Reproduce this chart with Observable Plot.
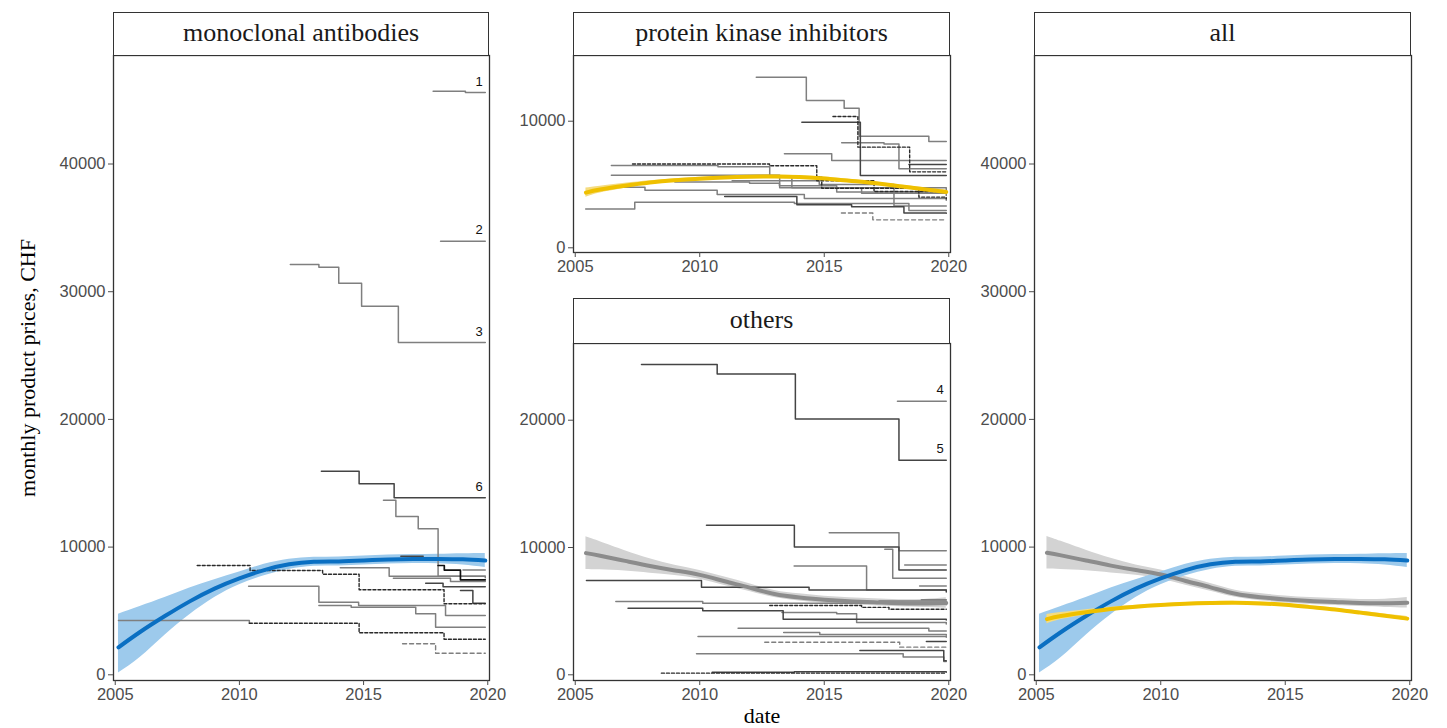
<!DOCTYPE html>
<html><head><meta charset="utf-8">
<script src="https://cdn.jsdelivr.net/npm/d3@7"></script>
<script src="https://cdn.jsdelivr.net/npm/@observablehq/plot@0.6"></script>
<style>
body{margin:0;background:#fff;}
#root{position:relative;width:1447px;height:728px;overflow:hidden;background:#fff;}
.strip{position:absolute;box-sizing:border-box;border:1.3px solid #333;background:#fff;font-family:"Liberation Serif","Times New Roman",serif;font-size:26px;color:#1a1a1a;display:flex;align-items:center;justify-content:center;padding-bottom:2px;}
.panel{position:absolute;}
.ytitle{position:absolute;font-family:"Liberation Serif","Times New Roman",serif;font-size:22px;color:#000;white-space:nowrap;transform:translate(-50%,-50%) rotate(-90deg);}
.xtitle{position:absolute;font-family:"Liberation Serif","Times New Roman",serif;font-size:22px;color:#000;white-space:nowrap;transform:translate(-50%,-50%);}
</style></head>
<body><div id="root"></div>
<script>
// ---------- data ----------
const panelTitles = ["monoclonal antibodies", "protein kinase inhibitors", "others", "all"];
const xTicks = [2005, 2010, 2015, 2020];
const tallTicks = [0, 10000, 20000, 30000, 40000];
const pkiTicks = [0, 10000];
const othersTicks = [0, 10000, 20000];
const yTitle = "monthly product prices, CHF";
const xTitle = "date";

// step series: [date, price] breakpoints (step-after), last point = end date
const monoSeries = [
  {id:"m1", kind:"gray", pts:[[2017.8,45700],[2019.1,45600],[2019.9,45600]]},
  {id:"m2", kind:"gray", pts:[[2018.1,33950],[2019.9,33950]]},
  {id:"m3", kind:"gray", pts:[[2012.05,32130],[2013.2,31920],[2014.0,30670],[2014.92,28860],[2016.4,26020],[2019.9,26020]]},
  {id:"m6", kind:"dark", pts:[[2013.3,15940],[2014.82,14960],[2016.23,13860],[2019.9,13860]]},
  {id:"m7", kind:"gray", pts:[[2015.8,13670],[2016.3,12400],[2017.2,11430],[2018.0,7720],[2019.9,7600]]},
  {id:"m8", kind:"darkdash", pts:[[2008.3,8560],[2010.43,8170],[2013.35,7880],[2014.82,6660],[2018.24,5560],[2019.9,5560]]},
  {id:"m9", kind:"gray", pts:[[2010.37,6940],[2013.2,5690],[2014.8,5430],[2018.3,4640],[2019.9,4640]]},
  {id:"m10", kind:"gray", pts:[[2013.2,5430],[2014.5,5290],[2017.1,4780],[2017.9,3730],[2019.9,3730]]},
  {id:"m11a", kind:"gray", pts:[[2005.13,4250],[2010.4,4040]]},
  {id:"m11b", kind:"darkdash", pts:[[2010.4,4040],[2014.82,3290],[2018.24,2790],[2019.9,2790]]},
  {id:"m12", kind:"lightdash", pts:[[2016.57,2430],[2017.9,1690],[2019.9,1690]]},
  {id:"m13", kind:"gray", pts:[[2014.06,8380],[2016.03,7720],[2019.9,7720]]},
  {id:"m14", kind:"dark", pts:[[2016.5,9290],[2017.4,9290]]},
  {id:"m15", kind:"gray", pts:[[2016.2,7570],[2018.5,7300],[2019.9,7300]]},
  {id:"m16", kind:"black", pts:[[2018.0,8560],[2018.25,8200],[2018.9,7440],[2019.9,7440]]},
  {id:"m17", kind:"dark", pts:[[2017.5,7160],[2018.2,6900],[2019.9,6900]]},
  {id:"m18", kind:"gray", pts:[[2019.0,8200],[2019.9,8200]]},
  {id:"m19", kind:"dark", pts:[[2018.9,6600],[2019.4,5600],[2019.9,5600]]}
];
const monoLabels = [
  {label:"1", x:2019.65, y:45600},
  {label:"2", x:2019.65, y:33950},
  {label:"3", x:2019.65, y:26020},
  {label:"6", x:2019.65, y:13860}
];

const pkiSeries = [
  {id:"p1", kind:"gray", pts:[[2012.27,13480],[2014.28,11630],[2015.8,11030],[2016.4,8820],[2019.2,8400],[2019.9,8400]]},
  {id:"p2", kind:"dark", pts:[[2014.1,9920],[2016.45,5710],[2019.9,5710]]},
  {id:"p3", kind:"darkdash", pts:[[2015.35,10370],[2016.35,7950],[2018.43,6000],[2019.9,6000]]},
  {id:"p4", kind:"gray", pts:[[2013.4,7420],[2015.3,6900],[2019.9,6900]]},
  {id:"p5", kind:"gray", pts:[[2006.45,6510],[2010.73,6400],[2012.81,5660],[2013.7,4740],[2019.9,4600]]},
  {id:"p6", kind:"darkdash", pts:[[2007.3,6620],[2012.8,6480],[2014.7,5300],[2017.0,4450],[2019.9,4450]]},
  {id:"p7", kind:"gray", pts:[[2006.45,5740],[2013.21,4740],[2016.5,4300],[2019.9,4130]]},
  {id:"p8", kind:"gray", pts:[[2006.45,4790],[2007.8,4550],[2010.7,4210],[2014.2,3900],[2019.9,3760]]},
  {id:"p9", kind:"gray", pts:[[2005.42,3070],[2007.39,3600],[2013.8,3500],[2018.4,2950],[2019.9,2950]]},
  {id:"p10", kind:"lightdash", pts:[[2015.69,2750],[2016.95,2210],[2019.9,2210]]},
  {id:"p11", kind:"dark", pts:[[2011.0,4050],[2013.9,3400],[2016.1,3250],[2018.2,2750],[2019.9,2730]]},
  {id:"p12", kind:"gray", pts:[[2009.0,5200],[2012.0,5100],[2013.2,4900],[2015.5,4400],[2019.9,4300]]},
  {id:"p13", kind:"darkdash", pts:[[2012.9,5600],[2014.9,4700],[2018.8,4000],[2019.9,3870]]},
  {id:"p14", kind:"gray", pts:[[2015.7,8300],[2017.4,8200],[2018.0,6250],[2019.9,6240]]},
  {id:"p15", kind:"gray", pts:[[2011.3,5300],[2014.8,5000],[2017.8,3300],[2019.9,3300]]},
  {id:"p16", kind:"dark", pts:[[2018.4,6580],[2019.9,6580]]}
];

const othersSeries = [
  {id:"o5", kind:"dark", pts:[[2007.66,24370],[2010.7,23630],[2013.84,20100],[2018.0,16860],[2019.9,16860]]},
  {id:"o4", kind:"gray", pts:[[2017.94,21490],[2019.9,21490]]},
  {id:"oa", kind:"dark", pts:[[2010.27,11740],[2013.8,10040],[2018.0,8240],[2019.9,8240]]},
  {id:"ob", kind:"gray", pts:[[2015.2,11160],[2018.0,9750],[2019.9,9750]]},
  {id:"oc", kind:"gray", pts:[[2017.43,9860],[2017.75,7580],[2019.9,7580]]},
  {id:"od", kind:"gray", pts:[[2013.79,8550],[2016.7,6670],[2019.9,6670]]},
  {id:"oe", kind:"gray", pts:[[2018.23,8630],[2019.9,8630]]},
  {id:"of", kind:"gray", pts:[[2018.83,6980],[2019.9,6980]]},
  {id:"og", kind:"dark", pts:[[2005.45,7400],[2010.07,6880],[2014.39,6670],[2019.9,6500]]},
  {id:"oh", kind:"gray", pts:[[2006.63,5750],[2010.12,5620],[2019.9,5500]]},
  {id:"oi", kind:"darkdash", pts:[[2012.81,5440],[2016.5,5300],[2017.6,5150],[2019.9,5150]]},
  {id:"oj", kind:"dark", pts:[[2007.12,5230],[2010.12,5040],[2013.35,4370],[2019.9,4300]]},
  {id:"ok", kind:"gray", pts:[[2013.3,4900],[2015.5,4800],[2016.3,4100],[2019.9,4000]]},
  {id:"ol", kind:"gray", pts:[[2011.54,3660],[2019.2,3450],[2019.9,3450]]},
  {id:"om", kind:"gray", pts:[[2013.37,3320],[2014.82,3160],[2019.9,3100]]},
  {id:"on", kind:"gray", pts:[[2009.93,3010],[2019.9,2950]]},
  {id:"oo", kind:"lightdash", pts:[[2012.61,2560],[2018.03,2170],[2019.9,2170]]},
  {id:"op", kind:"dark", pts:[[2019.1,2610],[2019.9,2610]]},
  {id:"oq", kind:"dark", pts:[[2016.43,1910],[2019.8,1100],[2019.9,1100]]},
  {id:"or", kind:"gray", pts:[[2009.87,1650],[2018.17,1390],[2019.8,1040],[2019.9,1040]]},
  {id:"os", kind:"darkdash", pts:[[2008.46,130],[2019.9,130]]},
  {id:"ot", kind:"dark", pts:[[2010.5,200],[2013.8,230],[2019.9,200]]},
  {id:"ou", kind:"gray", pts:[[2018.9,5900],[2019.9,5900]]},
  {id:"ov", kind:"gray", pts:[[2017.2,5800],[2019.9,5600]]}
];
const othersLabels = [
  {label:"4", x:2019.65, y:21490},
  {label:"5", x:2019.65, y:16860}
];

// smoothed trends: [date, fit, lower, upper]
const monoSmooth = [[2005.13,2150,150,4750],[2006,3350,1350,5350],[2007,4600,3100,6050],[2008,5750,4700,6800],[2009,6750,6050,7450],[2010,7550,7050,8050],[2011,8200,7750,8650],[2012,8650,8250,9050],[2013,8850,8500,9200],[2014,8880,8530,9230],[2015,8950,8600,9300],[2016,9030,8680,9380],[2017,9070,8720,9420],[2018,9070,8700,9440],[2019,9040,8600,9480],[2019.9,8950,8400,9500]];
const pkiSmooth = [[2005.43,4360,4000,4720],[2006,4600,4330,4870],[2007,4900,4710,5090],[2008,5150,5010,5290],[2009,5330,5210,5450],[2010,5460,5350,5570],[2011,5560,5450,5670],[2012,5620,5510,5730],[2013,5640,5530,5750],[2014,5590,5480,5700],[2015,5480,5370,5590],[2016,5300,5190,5410],[2017,5110,5000,5220],[2018,4870,4750,4990],[2019,4620,4480,4760],[2019.9,4400,4230,4570]];
const othersSmooth = [[2005.43,9560,8280,10840],[2006,9350,8250,10450],[2007,8950,8150,9750],[2008,8550,7980,9120],[2009,8200,7800,8600],[2010,7850,7500,8200],[2011,7350,7020,7680],[2012,6850,6550,7150],[2013,6350,6070,6630],[2014,6080,5800,6360],[2015,5900,5630,6170],[2016,5780,5510,6050],[2017,5700,5430,5970],[2018,5620,5340,5900],[2019,5600,5280,5920],[2019.9,5640,5230,6050]];

// ---------- drawing ----------
const root = document.getElementById("root");
const ML = 70, MR = 6, MT = 2, MB = 34;
const xDomain = [2004.93, 2020.07];
const lineKinds = {
  gray: {stroke:"#7f7f7f", strokeWidth:1.5},
  dark: {stroke:"#444", strokeWidth:1.5},
  black: {stroke:"#111", strokeWidth:1.7},
  darkdash: {stroke:"#2a2a2a", strokeWidth:1.4, strokeDasharray:"3,2"},
  lightdash: {stroke:"#7f7f7f", strokeWidth:1.4, strokeDasharray:"4,3"}
};
const trendStyle = {
  blue: {line:"#0a6fc2", band:"#9dcaec"},
  yellow: {line:"#efc000", band:"#f5dc80"},
  gray: {line:"#8c8c8c", band:"#d3d3d3"}
};

function rowsOf(series) {
  const rows = [];
  for (const s of series) for (const p of s.pts) rows.push({id:s.id, kind:s.kind, x:p[0], y:p[1]});
  return rows;
}
function smoothRows(arr) { return arr.map(d => ({x:d[0], fit:d[1], lo:d[2], hi:d[3]})); }

function bandMark(arr, col) {
  return Plot.areaY(smoothRows(arr), {x:"x", y1:"lo", y2:"hi", fill:trendStyle[col].band, curve:"natural"});
}
function trendLine(arr, col) {
  return Plot.line(smoothRows(arr), {x:"x", y:"fit", stroke:trendStyle[col].line, strokeWidth:4, curve:"natural"});
}
function stepMarks(series) {
  const rows = rowsOf(series);
  return Object.keys(lineKinds).map(k =>
    Plot.line(rows.filter(r => r.kind === k), {x:"x", y:"y", z:"id", curve:"step-after", ...lineKinds[k]}));
}
function labelMark(labels) {
  return Plot.text(labels, {x:"x", y:"y", text:"label", dy:-11, fill:"#111", fontSize:13, fontFamily:"Liberation Sans, Arial, sans-serif"});
}

function panel({x0, y0, x1, y1, yDomain, yTicks, marks}) {
  const chart = Plot.plot({
    width: (x1 - x0) + ML + MR,
    height: (y1 - y0) + MT + MB,
    marginLeft: ML, marginRight: MR, marginTop: MT, marginBottom: MB,
    x: {domain: xDomain},
    y: {domain: yDomain},
    style: {fontFamily:"Liberation Sans, Arial, sans-serif", fontSize:"16.5px", color:"#4d4d4d", background:"transparent", overflow:"visible"},
    marks: [
      ...marks,
      Plot.frame({stroke:"#333", strokeWidth:1.3}),
      Plot.axisX({ticks:xTicks, tickFormat:"d", tickSize:5, tickPadding:3, label:null, fontSize:16.5}),
      Plot.axisY({ticks:yTicks, tickFormat:"d", tickSize:5, tickPadding:3, label:null, fontSize:16.5})
    ]
  });
  chart.classList.add("panel");
  chart.style.left = (x0 - ML) + "px";
  chart.style.top = (y0 - MT) + "px";
  root.appendChild(chart);
}
function strip(text, x0, y0, x1, y1) {
  const d = document.createElement("div");
  d.className = "strip";
  d.textContent = text;
  Object.assign(d.style, {left:x0+"px", top:y0+"px", width:(x1-x0)+"px", height:(y1-y0+1)+"px"});
  root.appendChild(d);
}

// monoclonal antibodies
panel({x0:113, y0:55, x1:489, y1:680, yDomain:[-446, 48497], yTicks:tallTicks,
  marks:[bandMark(monoSmooth,"blue"), ...stepMarks(monoSeries), trendLine(monoSmooth,"blue"), labelMark(monoLabels)]});
strip(panelTitles[0], 113, 12, 489, 55);

// protein kinase inhibitors
panel({x0:573, y0:55, x1:950, y1:252, yDomain:[-371, 15190], yTicks:pkiTicks,
  marks:[bandMark(pkiSmooth,"yellow"), ...stepMarks(pkiSeries), trendLine(pkiSmooth,"yellow")]});
strip(panelTitles[1], 573, 12, 950, 55);

// others
panel({x0:573, y0:343, x1:950, y1:680, yDomain:[-448, 26026], yTicks:othersTicks,
  marks:[bandMark(othersSmooth,"gray"), ...stepMarks(othersSeries), trendLine(othersSmooth,"gray"), labelMark(othersLabels)]});
strip(panelTitles[2], 573, 298, 950, 343);

// all
panel({x0:1034, y0:55, x1:1411, y1:680, yDomain:[-446, 48497], yTicks:tallTicks,
  marks:[bandMark(othersSmooth,"gray"), bandMark(monoSmooth,"blue"), bandMark(pkiSmooth,"yellow"),
         trendLine(othersSmooth,"gray"), trendLine(monoSmooth,"blue"), trendLine(pkiSmooth,"yellow")]});
strip(panelTitles[3], 1034, 12, 1411, 55);

const yt = document.createElement("div");
yt.className = "ytitle"; yt.textContent = yTitle;
yt.style.left = "28px"; yt.style.top = "368px";
root.appendChild(yt);
const xt = document.createElement("div");
xt.className = "xtitle"; xt.textContent = xTitle;
xt.style.left = "762px"; xt.style.top = "716px";
root.appendChild(xt);
</script>
</body></html>
